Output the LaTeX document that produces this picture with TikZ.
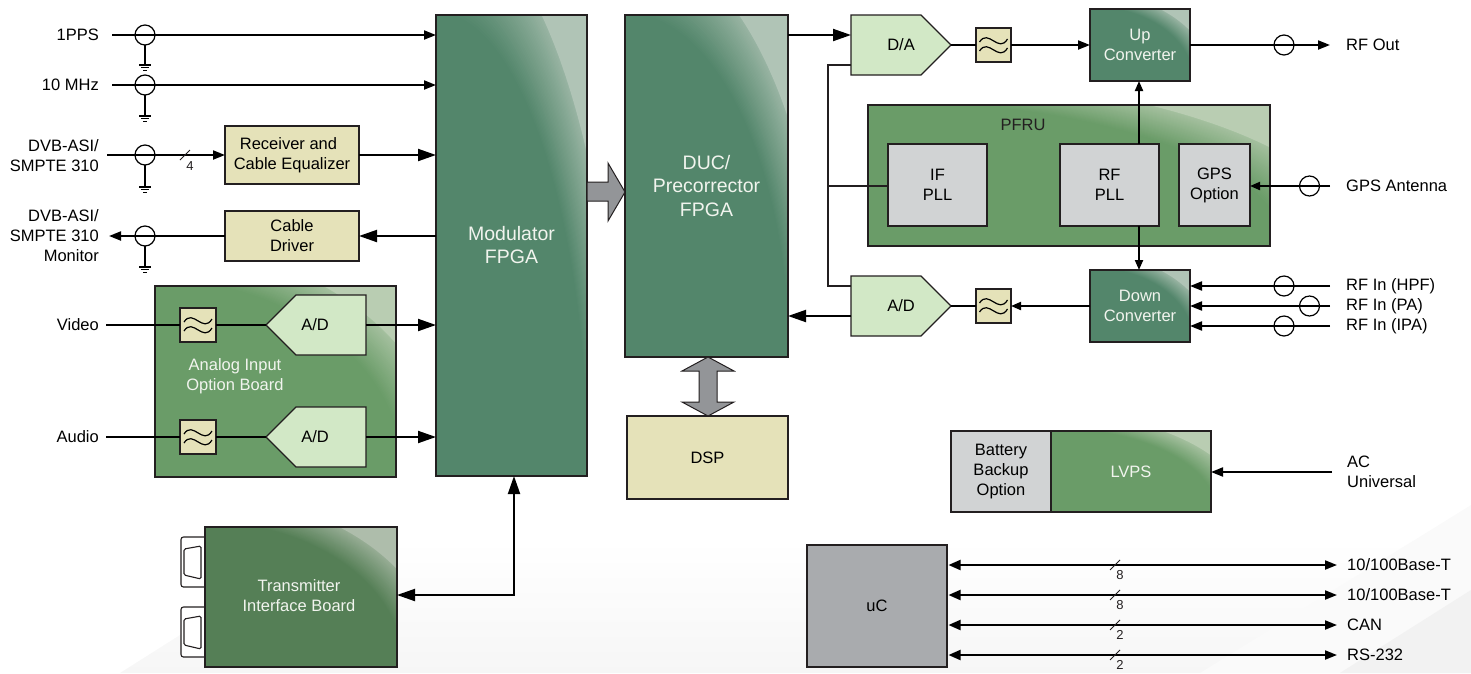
\documentclass[tikz,border=0pt]{standalone}
\usepackage{fontspec}
\setmainfont{Liberation Sans}
\usetikzlibrary{arrows.meta,calc}
\definecolor{fpgabase}{HTML}{53866B}
\definecolor{fpgalight}{HTML}{B0C4B6}
\definecolor{boardbase}{HTML}{6A9C68}
\definecolor{boardlight}{HTML}{B9CDB2}
\definecolor{tibbase}{HTML}{557F56}
\definecolor{tiblight}{HTML}{AEBDAB}
\definecolor{tan}{HTML}{E5E2B9}
\definecolor{conv}{HTML}{D2E8C6}
\definecolor{pll}{HTML}{D1D3D4}
\definecolor{ucgrey}{HTML}{A9ABAE}
\definecolor{busgrey}{HTML}{939598}
\definecolor{ink}{HTML}{231F20}
\definecolor{pale}{HTML}{F1F4EE}
\newcommand{\fsN}{\fontsize{16.5}{20}\selectfont}
\newcommand{\fsB}{\fontsize{19.5}{23}\selectfont}
\newcommand{\fsS}{\fontsize{13}{15}\selectfont}
\tikzset{
  x=1pt,y=-1pt,
  boxnode/.style={draw=ink,line width=1.3pt,inner sep=0pt,outer sep=0pt,align=center,font=\fsN,text=black},
  sig/.style={line width=2pt,draw=black},
  thin sig/.style={line width=1.3pt,draw=ink},
  big/.style={-{Triangle[length=18pt,width=12pt]}},
  mid/.style={-{Triangle[length=12pt,width=9pt]}},
  sml/.style={-{Triangle[length=10pt,width=8pt]}},
  xfmr/.style={circle,draw=black,line width=1.2pt,minimum size=20pt,inner sep=0pt,outer sep=0pt},
  lleft/.style={anchor=east,align=right,font=\fsN,inner sep=0pt},
  lright/.style={anchor=west,align=left,font=\fsN,inner sep=0pt},
  ptext/.style={align=center,font=\fsN,text=pale,inner sep=0pt},
  ctext/.style={align=center,font=\fsN,inner sep=0pt},
  smalltxt/.style={font=\fsS,inner sep=0pt,text=ink},
  wave/.style={line width=1.2pt,draw=black},
}
% name x1 y1 x2 y2 style text
\newcommand{\plainbox}[7]{%
  \node[boxnode,#6,minimum width={(#4-#2)*1pt},minimum height={(#5-#3)*1pt}] (#1) at ({(#2+#4)/2},{(#3+#5)/2}) {#7};}
% name x1 y1 x2 y2 base light text start
\newcommand{\swept}[9]{%
  \begin{scope}
    \clip (#2,#3) rectangle (#4,#5);
    \fill[#6] (#2,#3) rectangle (#4,#5);
    \foreach \i in {0,...,34}{%
      \pgfmathsetmacro{\rx}{(#9+(1.22-#9)*\i/34)*(#4-#2)}%
      \pgfmathsetmacro{\ry}{(#9+(1.22-#9)*\i/34)*(#5-#3)}%
      \pgfmathsetmacro{\mixv}{\i<34 ? 75*\i/34 : 100}%
      \fill[#7!\mixv!#6,even odd rule] (#2,#3) rectangle (#4,#5) (#2,#5) ellipse [x radius=\rx,y radius=\ry];
    }
  \end{scope}
  \node[boxnode,text=pale,minimum width={(#4-#2)*1pt},minimum height={(#5-#3)*1pt}] (#1) at ({(#2+#4)/2},{(#3+#5)/2}) {#8};}
\newcommand{\lpf}[5]{%
  \plainbox{#1}{#2}{#3}{#4}{#5}{fill=tan,line width=1.6pt}{}%
  \draw[wave] ($(#1)+(-14,-3)$) .. controls ($(#1)+(-5,-17)$) and ($(#1)+(5,9)$) .. ($(#1)+(14,-6)$);
  \draw[wave] ($(#1)+(-14,6)$) .. controls ($(#1)+(-5,-8)$) and ($(#1)+(5,18)$) .. ($(#1)+(14,3)$);}
% name tipx shoulderx backx ytop ymid ybot textx text
\newcommand{\conv}[9]{%
  \draw[draw=ink,line width=1.3pt,fill=conv] (#2,#6) -- (#3,#5) -- (#4,#5) -- (#4,#7) -- (#3,#7) -- cycle;
  \node[ctext] (#1) at (#8,#6) {#9};
  \coordinate (#1-tip) at (#2,#6);
  \coordinate (#1-back) at (#4,#6);}
\newcommand{\grnd}[2]{%
  \coordinate (#1-g) at (#1.south |- 0,#2);
  \draw[line width=1.3pt] (#1.south) -- (#1-g);
  \draw[line width=1.3pt] ($(#1-g)+(-6,0)$) -- ($(#1-g)+(6,0)$);
  \draw[line width=1.2pt] ($(#1-g)+(-4,2.7)$) -- ($(#1-g)+(4,2.7)$);
  \draw[line width=1.2pt] ($(#1-g)+(-2,5.4)$) -- ($(#1-g)+(2,5.4)$);}
\newcommand{\socket}[1]{%
  \draw[line width=1.1pt,rounded corners=2.5pt,fill=white,draw=ink] (205,#1) -- (181,#1) -- (181,{#1+50}) -- (205,{#1+50});
  \draw[line width=1.1pt,rounded corners=1.5pt,draw=ink] (184,{#1+12}) -- (201,{#1+9}) -- (201,{#1+42}) -- (184,{#1+38}) -- cycle;}
\begin{document}
\begin{tikzpicture}
\useasboundingbox (0,0) rectangle (1471,673);
% faint background texture
\shade[top color=white,bottom color=black!3.5] (120,673) -- (330,540) -- (1471,540) -- (1471,673) -- cycle;
\fill[black!2] (1200,673) -- (1471,505) -- (1471,590) -- (1340,673) -- cycle;
\fill[black!5] (1340,673) -- (1471,590) -- (1471,673) -- cycle;

% large blocks
\swept{mod}{436}{15}{587}{476}{fpgabase}{fpgalight}{\fsB Modulator\\[3pt]\fsB FPGA}{1.0}
\swept{duc}{625}{15}{788}{357}{fpgabase}{fpgalight}{\fsB DUC/\\[3.5pt]\fsB Precorrector\\[3.5pt]\fsB FPGA}{1.0}
\plainbox{dsp}{627}{416}{788}{499}{fill=tan}{DSP}

% left inputs
\node[lleft] (l1pps) at (99,35) {1PPS};
\node[lleft] (l10) at (99,85) {10 MHz};
\node[lleft] (lasi) at (99,156) {DVB-ASI/\\SMPTE 310};
\node[lleft] (lmon) at (99,236) {DVB-ASI/\\SMPTE 310\\Monitor};
\node[lleft] (lvid) at (99,325) {Video};
\node[lleft] (laud) at (99,437) {Audio};
\coordinate (s1) at (112,35);
\coordinate (s2) at (112,85);
\coordinate (s3) at (107,155);
\coordinate (s4) at (109,236);
\coordinate (s5) at (106,325);
\coordinate (s6) at (106,437);
\plainbox{rx}{225}{126}{359}{184}{fill=tan}{Receiver and\hspace*{7pt}\\Cable Equalizer}
\plainbox{drv}{225}{211}{359}{261}{fill=tan}{Cable\\Driver}
\node[xfmr] (c1) at (145,35) {};
\node[xfmr] (c2) at (145,85) {};
\node[xfmr] (c3) at (145,155) {};
\node[xfmr] (c4) at (145,236) {};
\grnd{c1}{65}
\grnd{c2}{116}
\grnd{c3}{187}
\grnd{c4}{267}
\draw[sig,mid] (s1) -- (s1 -| mod.west);
\draw[sig,mid] (s2) -- (s2 -| mod.west);
\draw[sig,mid] (s3) -- (s3 -| rx.west);
\draw[sig,big] (rx.east) -- (rx.east -| mod.west);
\draw[sig,big] (mod.west |- drv.east) -- (drv.east);
\draw[sig,mid] (drv.west) -- (s4);
\coordinate (t3) at (185,155);
\draw[line width=1pt,draw=ink] ($(t3)+(-5,5)$) -- ($(t3)+(5,-5)$);
\node[smalltxt] (n4) at (190,166) {4};

% analog input board
\swept{aib}{155}{286}{396}{477}{boardbase}{boardlight}{}{1.03}
\node[ptext] (aibt) at (235,376) {Analog Input\\Option Board};
\lpf{f1}{180}{308}{216}{342}
\lpf{f2}{180}{420}{216}{454}
\conv{ad1}{266}{296}{366}{295}{325}{355}{315}{A/D}
\conv{ad2}{266}{296}{366}{407}{437}{467}{315}{A/D}
\draw[sig] (s5) -- (f1.west |- s5);
\draw[sig] (s6) -- (f2.west |- s6);
\draw[sig] (f1.east |- ad1-tip) -- (ad1-tip);
\draw[sig] (f2.east |- ad2-tip) -- (ad2-tip);
\draw[sig,big] (ad1-back) -- (ad1-back -| mod.west);
\draw[sig,big] (ad2-back) -- (ad2-back -| mod.west);

% transmitter interface board
\socket{537}
\socket{607}
\swept{tib}{205}{527}{397}{667}{tibbase}{tiblight}{}{1.03}
\node[ptext] (tibt) at (299,596) {Transmitter\\Interface Board};
\coordinate (jn) at (514,595);
\draw[sig,{Triangle[length=18pt,width=12pt]}-{Triangle[length=18pt,width=12pt]}] (tib.east |- jn) -- (jn) -- (jn |- mod.south);

% wide buses
\draw[draw=ink,line width=1pt,fill=busgrey] (mod.east |- 0,182) -- (608,182) -- (608,163) -- (duc.west |- 0,192) -- (608,221) -- (608,201) -- (mod.east |- 0,201) -- cycle;
\draw[draw=ink,line width=1pt,fill=busgrey] (708,357) -- (734,371) -- (717,371) -- (717,402) -- (734,402) -- (708,416) -- (682,402) -- (699,402) -- (699,371) -- (682,371) -- cycle;

% upper right chain
\conv{da}{951}{921}{851}{15}{45}{75}{901}{D/A}
\conv{adl}{951}{921}{851}{276}{306}{336}{901}{A/D}
\lpf{f3}{976}{28}{1011}{62}
\lpf{f4}{976}{289}{1011}{323}
\swept{up}{1090}{9}{1190}{81}{fpgabase}{fpgalight}{Up\\Converter}{1.03}
\swept{dn}{1090}{270}{1190}{342}{fpgabase}{fpgalight}{Down\\Converter}{1.03}
\swept{pfru}{868}{105}{1270}{246}{boardbase}{boardlight}{}{1.03}
\node[ctext,text=ink] (pfrut) at (1023,125) {PFRU};
\plainbox{ifp}{888}{144}{987}{226}{fill=pll}{IF\\PLL}
\plainbox{rfp}{1060}{144}{1159}{226}{fill=pll}{RF\\PLL}
\plainbox{gps}{1179}{144}{1250}{226}{fill=pll}{GPS\\Option}

\coordinate (dafrom) at (da-back |- 0,35);
\draw[sig,big] (duc.east |- dafrom) -- (dafrom);
\draw[sig] (da-tip) -- (f3.west);
\draw[sig,mid] (f3.east) -- (up.west);
\coordinate (rfout) at (1330,45);
\node[xfmr] (c5) at (1284,45) {};
\draw[sig,mid] (up.east) -- (rfout);
\node[lright] (lout) at (1346,45) {RF Out};

\coordinate (bus) at (828,186);
\draw[thin sig] (da-back |- 0,65) -| (bus) |- (adl-back |- 0,286);
\draw[thin sig] (bus) -- (ifp.west |- bus);
\draw[sig,big] (adl-back |- 0,316) -- (duc.east |- 0,316);
\draw[sig] (adl-tip) -- (f4.west);
\draw[sig,sml] (dn.west) -- (f4.east);
\coordinate (pllx) at (1139,186);
\draw[sig,sml] (pllx |- rfp.north) -- (pllx |- up.south);
\draw[sig,sml] (pllx |- rfp.south) -- (pllx |- dn.north);

\coordinate (ingps) at (1330,186);
\node[xfmr] (c6) at (1309.5,186) {};
\draw[sig,sml] (ingps) -- (gps.east |- ingps);
\node[lright] (lgps) at (1346,186) {GPS Antenna};

\coordinate (in1) at (1330,286);
\coordinate (in2) at (1330,306);
\coordinate (in3) at (1330,326);
\node[xfmr] (c7) at (1284,286) {};
\node[xfmr] (c8) at (1309.5,306) {};
\node[xfmr] (c9) at (1284,326) {};
\draw[sig,mid] (in1) -- (dn.east |- in1);
\draw[sig,mid] (in2) -- (dn.east |- in2);
\draw[sig,mid] (in3) -- (dn.east |- in3);
\node[lright] (li1) at (1346,286) {RF In (HPF)};
\node[lright] (li2) at (1346,306) {RF In (PA)};
\node[lright] (li3) at (1346,326) {RF In (IPA)};

% power
\plainbox{bat}{951}{431}{1051}{512}{fill=pll}{Battery\\Backup\\Option}
\swept{lvps}{1051}{431}{1211}{512}{boardbase}{boardlight}{LVPS}{1.03}
\coordinate (ac) at (1332,472);
\draw[sig,mid] (ac) -- (lvps.east |- ac);
\node[lright] (lac) at (1347,472) {AC\\Universal};

% uC
\plainbox{uc}{807}{545}{947}{667}{fill=ucgrey,draw=ink}{uC}
\foreach \nm/\yy/\bits/\txt in {a/565/8/10\slash 100Base-T,b/595/8/10\slash 100Base-T,c/625/2/CAN,d/655/2/RS-232}{
  \coordinate (e\nm) at (1337,\yy);
  \draw[line width=2pt,{Triangle[length=12pt,width=10pt]}-{Triangle[length=12pt,width=9pt]}] ($(uc.east |- e\nm)+(1.5,0)$) -- (e\nm);
  \draw[line width=1pt,draw=ink] (1110,\yy+5) -- (1120,\yy-5);
  \node[smalltxt] (b\nm) at (1120,\yy+10) {\bits};
  \node[lright] (t\nm) at (1347,\yy) {\txt};
}
\end{tikzpicture}
\end{document}
